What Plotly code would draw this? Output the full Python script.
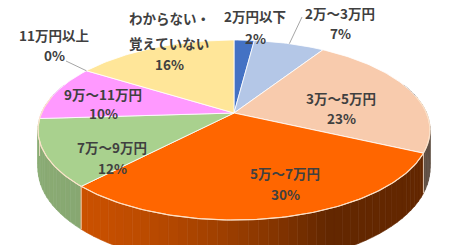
import numpy as np
import plotly.graph_objects as go

# ---- data ----
categories = ["2万円以下", "2万～3万円", "3万～5万円", "5万～7万円",
              "7万～9万円", "9万～11万円", "11万円以上", "わからない・覚えていない"]
values = [2, 7, 23, 30, 12, 10, 0, 16]
label_lines = [["2万円以下"], ["2万～3万円"], ["3万～5万円"], ["5万～7万円"],
               ["7万～9万円"], ["9万～11万円"], ["11万円以上"], ["わからない・", "覚えていない"]]

# ---- style / layout ----
colors = ["#4472C4", "#B4C7E7", "#F8CBAD", "#FF6600",
          "#A9D18E", "#FF99FF", "#A5A5A5", "#FFE699"]
label_x = [255, 340, 341, 285, 112, 103, 54, 169]
label_y = [[16, 38], [13, 33], [98, 118], [173, 194], [147, 168], [94, 113], [35, 55], [18, 43, 64]]
leader_from = {1: (302, 17), 6: (66, 61)}

W, H = 460, 245
CX, CY = 234.0, 113.0      # projected pie centre
K = 0.189                  # perspective factor
F, G = 192.5, 86.8         # horizontal / vertical radii
DEPTH = 37.0               # thickness
FONT = "Noto Sans CJK JP"
TXT = "#404040"


def proj(theta, r=1.0, drop=0.0):
    u = r * np.sin(theta)
    v = r * np.cos(theta)
    d = 1 + K * v
    return CX + F * u / d, CY - G * v / d + drop / d


def shade(hexc, fac):
    hexc = hexc.lstrip("#")
    r, g, b = (int(hexc[i:i + 2], 16) for i in (0, 2, 4))
    return f"rgb({int(r * fac)},{int(g * fac)},{int(b * fac)})"


total = float(sum(values))
bounds = np.concatenate([[0.0], np.cumsum(values) / total]) * 2 * np.pi

fig = go.Figure()

# ---- sides: collect segments, draw back to front ----
vis0, vis1 = np.pi / 2 - 0.35, 3 * np.pi / 2 + 0.35
step = np.radians(2.5)
segs = []
for i, val in enumerate(values):
    if val <= 0:
        continue
    a0, a1 = max(bounds[i], vis0), min(bounds[i + 1], vis1)
    if a1 <= a0:
        continue
    n = max(1, int(np.ceil((a1 - a0) / step)))
    edges = np.linspace(a0, a1, n + 1)
    for t0, t1 in zip(edges[:-1], edges[1:]):
        segs.append((np.cos((t0 + t1) / 2), i, t0, t1))
segs.sort(key=lambda s: -s[0])
for _, i, t0, t1 in segs:
    ts = np.linspace(t0, t1, 4)
    xt, yt = proj(ts)
    xb, yb = proj(ts[::-1], drop=DEPTH)
    um = np.sin((t0 + t1) / 2)
    p = min(1.0, max(0.0, (um + 1) / 1.4))
    fac = 0.82 - 0.43 * p ** 2
    c = shade(colors[i], fac)
    fig.add_trace(go.Scatter(
        x=np.concatenate([xt, xb, xt[:1]]), y=np.concatenate([yt, yb, yt[:1]]),
        mode="lines", fill="toself", fillcolor=c, line=dict(color=c, width=0.6),
        hoverinfo="skip", showlegend=False))

# side edges of slice boundaries (visible front part)
for b in bounds[1:-1]:
    if vis0 + 0.35 < b < vis1 - 0.35:
        x0, y0 = proj(b)
        x1, y1 = proj(b, drop=DEPTH)
        fig.add_trace(go.Scatter(x=[x0, x1], y=[y0, y1], mode="lines",
                                 line=dict(color="rgba(255,235,215,0.8)", width=1),
                                 hoverinfo="skip", showlegend=False))

# ---- top surfaces ----
for i, val in enumerate(values):
    if val <= 0:
        continue
    a0, a1 = bounds[i], bounds[i + 1]
    n = max(3, int((a1 - a0) / np.radians(1)))
    ts = np.linspace(a0, a1, n)
    xa, ya = proj(ts)
    fig.add_trace(go.Scatter(
        x=np.concatenate([[CX], xa, [CX]]), y=np.concatenate([[CY], ya, [CY]]),
        mode="lines", fill="toself", fillcolor=colors[i],
        line=dict(color="rgba(255,255,255,0.9)", width=0.9),
        hoverinfo="skip", showlegend=False, name=categories[i]))

# front rim highlight
ts = np.linspace(np.pi / 2 - 0.2, 3 * np.pi / 2 + 0.2, 200)
xr, yr = proj(ts)
fig.add_trace(go.Scatter(x=xr, y=yr, mode="lines",
                         line=dict(color="rgba(255,225,195,0.85)", width=1.2),
                         hoverinfo="skip", showlegend=False))

# ---- leader lines ----
for i, (lx, ly) in leader_from.items():
    mid = (bounds[i] + bounds[i + 1]) / 2
    px, py = proj(mid)
    fig.add_trace(go.Scatter(x=[lx, px], y=[ly, py], mode="lines",
                             line=dict(color="#A6A6A6", width=1),
                             hoverinfo="skip", showlegend=False))

# ---- labels ----
annotations = []
for i, val in enumerate(values):
    lines = label_lines[i] + [f"{val}%"]
    for txt, yy in zip(lines, label_y[i]):
        annotations.append(dict(x=label_x[i], y=yy, xref="x", yref="y", text=txt,
                                showarrow=False, xanchor="center", yanchor="middle",
                                font=dict(family=FONT, size=13.5, color=TXT, weight="bold")))

fig.update_layout(
    width=W, height=H, margin=dict(l=0, r=0, t=0, b=0),
    paper_bgcolor="white", plot_bgcolor="white",
    xaxis=dict(range=[0, W], visible=False, fixedrange=True),
    yaxis=dict(range=[H, 0], visible=False, fixedrange=True),
    annotations=annotations, showlegend=False,
)

fig.write_html("out.html")
